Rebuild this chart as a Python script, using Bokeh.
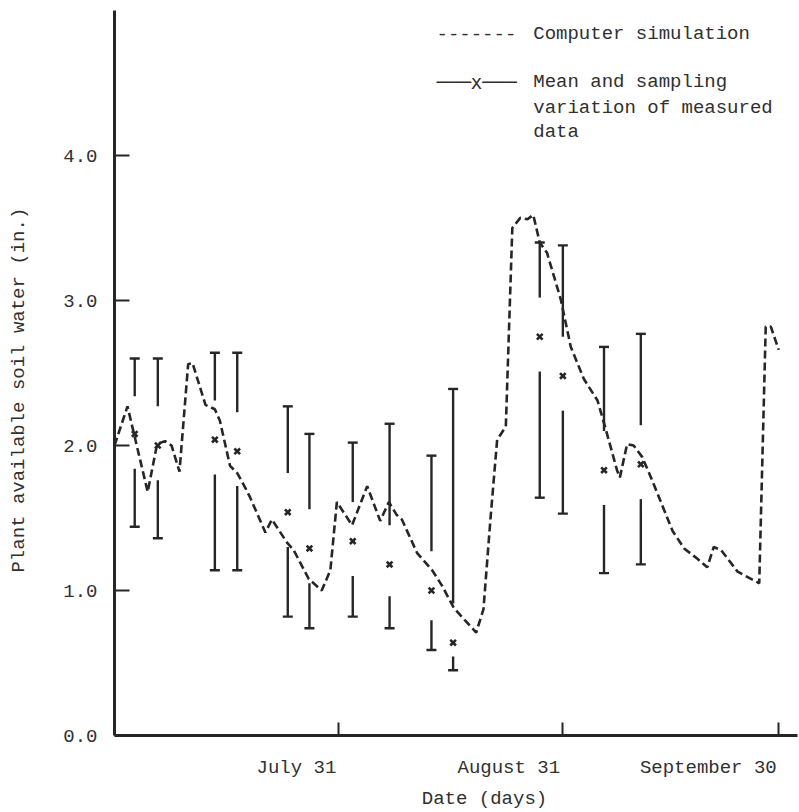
import numpy as np
from bokeh.plotting import figure
from bokeh.models import Range1d, FixedTicker, Label, PrintfTickFormatter, LinearAxis
from bokeh.embed import file_html
from bokeh.resources import INLINE

# ---- data (x = days after June 30) ----
sim_day = [0.0, 1.8, 4.6, 5.9, 7.0, 7.9, 9.0, 10.2, 10.8, 12.6, 13.9, 14.6, 16.0, 17.0,
           18.1, 18.8, 20.9, 21.8, 23.9, 24.8, 26.9, 28.7, 29.9, 30.8, 32.9, 35.0, 36.8,
           38.0, 39.1, 39.8, 41.9, 44.0, 45.4, 47.0, 47.9, 50.1, 51.1, 52.1, 53.0, 54.2,
           55.1, 56.2, 57.2, 58.0, 58.9, 59.9, 61.8, 63.2, 65.0, 66.9, 68.0, 69.6, 70.0,
           71.0, 71.9, 73.1, 74.3, 75.6, 77.3, 78.9, 80.7, 82.1, 83.0, 84.0, 86.3, 89.3,
           90.2, 90.9, 92.0]
sim_value = [2.00, 2.27, 1.68, 2.01, 2.03, 2.00, 1.82, 2.56, 2.57, 2.28, 2.25, 2.17, 1.86, 1.81,
             1.71, 1.64, 1.40, 1.49, 1.33, 1.28, 1.08, 1.00, 1.14, 1.61, 1.45, 1.72, 1.48,
             1.61, 1.52, 1.49, 1.26, 1.14, 1.03, 0.88, 0.83, 0.71, 0.87, 1.51, 2.04, 2.13,
             3.50, 3.57, 3.56, 3.59, 3.40, 3.33, 3.01, 2.68, 2.46, 2.31, 2.12, 1.83, 1.78,
             2.01, 2.00, 1.92, 1.78, 1.62, 1.41, 1.29, 1.22, 1.16, 1.30, 1.28, 1.13, 1.05,
             2.82, 2.82, 2.66]

meas_day = [2.8, 6.0, 13.9, 17.0, 24.0, 27.0, 33.0, 38.1, 43.9, 46.9, 58.9, 62.1, 67.8, 72.9]
meas_mean = [2.08, 2.00, 2.04, 1.96, 1.54, 1.29, 1.34, 1.18, 1.00, 0.64, 2.75, 2.48, 1.83, 1.87]
meas_high = [2.60, 2.60, 2.64, 2.64, 2.27, 2.08, 2.02, 2.15, 1.93, 2.39, 3.40, 3.38, 2.68, 2.77]
meas_low = [1.44, 1.36, 1.14, 1.14, 0.82, 0.74, 0.82, 0.74, 0.59, 0.45, 1.64, 1.53, 1.12, 1.18]

x_tick_days = [31, 62, 92]
x_tick_labels = ["July 31", "August 31", "September 30"]
y_ticks = [0, 1, 2, 3, 4]

INK = "#262626"
TXT = "#303030"
FONT = "Liberation Mono"
FS_PX = 19
FS = f"{FS_PX}px"
NB = "\u00a0"

W, H = 798, 812
BL, BR, BT, BB = 114, 1, 10, 77
X_END = 94.6

p = figure(width=W, height=H, output_backend="svg", toolbar_location=None,
           x_range=Range1d(0, X_END), y_range=Range1d(0, 5.0),
           min_border_left=BL, min_border_right=BR, min_border_top=BT, min_border_bottom=BB)
p.outline_line_color = None
p.xgrid.visible = False
p.ygrid.visible = False
p.background_fill_color = "white"

def style(ax):
    ax.axis_line_width = 3
    ax.axis_line_color = INK
    ax.major_tick_line_width = 2
    ax.major_tick_line_color = INK
    ax.minor_tick_line_color = None
    ax.major_tick_out = 0
    ax.major_label_text_font = FONT
    ax.major_label_text_font_size = FS
    ax.major_label_text_color = TXT
    ax.axis_label_text_font = FONT
    ax.axis_label_text_font_size = FS
    ax.axis_label_text_color = TXT
    ax.axis_label_text_font_style = "normal"

style(p.xaxis[0])
style(p.yaxis[0])

# main x axis: line and inward ticks at the dates, no labels
p.xaxis.ticker = FixedTicker(ticks=x_tick_days)
p.xaxis.major_tick_in = 13
p.xaxis.major_label_text_color = None
p.xaxis.major_label_standoff = 0

# label axis: each date label ends at its tick (typed right-aligned)
px_per_day = (W - BL - BR) / X_END
char_w = 0.6 * FS_PX
label_pos = [round(d - (len(t) * char_w / 2 + 2) / px_per_day, 3)
             for d, t in zip(x_tick_days, x_tick_labels)]
lab_axis = LinearAxis(ticker=FixedTicker(ticks=label_pos),
                      major_label_overrides={pos: t for pos, t in zip(label_pos, x_tick_labels)})
style(lab_axis)
lab_axis.axis_line_color = None
lab_axis.major_tick_line_color = None
lab_axis.major_label_standoff = 21
lab_axis.axis_label = NB * 5 + "Date (days)"
lab_axis.axis_label_standoff = 6
p.add_layout(lab_axis, "below")

p.yaxis.ticker = FixedTicker(ticks=y_ticks)
p.yaxis.major_tick_in = 15
p.yaxis.formatter = PrintfTickFormatter(format="%.1f")
p.yaxis.major_label_standoff = 17
p.yaxis.axis_label = "Plant available soil water (in.)" + NB * 3
p.yaxis.axis_label_standoff = 30

# simulation curve
p.line(sim_day, sim_value, line_color=INK, line_width=2.6, line_dash="8 4")

# measured data with sampling variation
md = np.array(meas_day)
mm = np.array(meas_mean)
mh = np.array(meas_high)
ml = np.array(meas_low)
gap_up = np.minimum(0.27, 0.5 * (mh - mm))
gap_dn = np.minimum(0.24, 0.5 * (mm - ml))
p.segment(md, mh, md, mm + gap_up, line_color=INK, line_width=2.4)
p.segment(md, mm - gap_dn, md, ml, line_color=INK, line_width=2.4)
p.scatter(md, mh, marker="dash", size=10, line_color=INK, line_width=2.4)
p.scatter(md, ml, marker="dash", size=10, line_color=INK, line_width=2.4)
p.scatter(md, mm, marker="x", size=8, line_color=INK, line_width=2.6)

# legend (typed style)
leg = [
    (44.6, 4.84, "-------", FONT),
    (58.0, 4.84, "Computer simulation", FONT),
    (44.6, 4.51, "\u2500\u2500\u2500x\u2500\u2500\u2500", "DejaVu Sans Mono"),
    (58.0, 4.51, "Mean and sampling", FONT),
    (58.0, 4.33, "variation of measured", FONT),
    (58.0, 4.16, "data", FONT),
]
for x, y, t, f in leg:
    p.add_layout(Label(x=x, y=y, text=t, text_align="left", text_baseline="middle",
                       text_font=f, text_font_size=FS, text_color=TXT))

open("out.html", "w").write(file_html(p, INLINE))
